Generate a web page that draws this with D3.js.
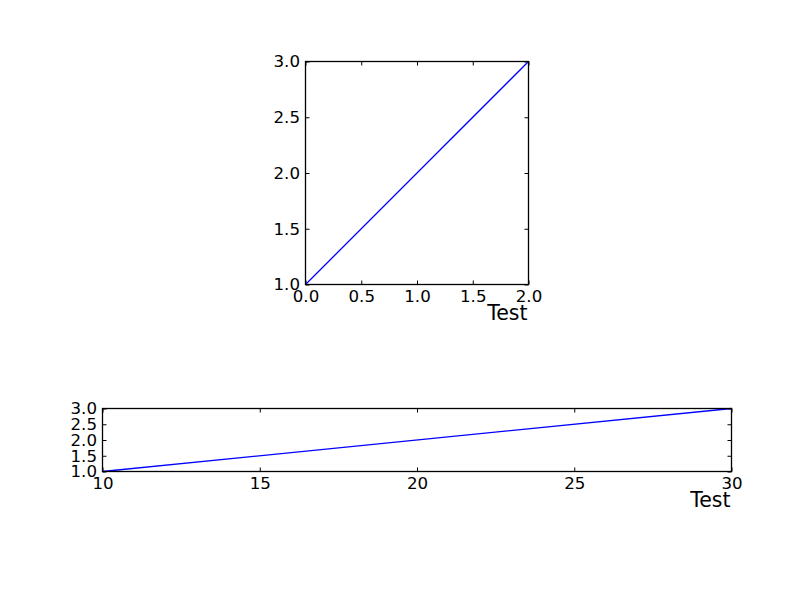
<!DOCTYPE html>
<html><head><meta charset="utf-8">
<script src="https://cdn.jsdelivr.net/npm/d3@7"></script>
<style>
body{margin:0;background:#fff;}
text{font-family:"DejaVu Sans",sans-serif;fill:#000;}
</style></head>
<body>
<script>
// Data
const topX = [0, 2];
const topY = [1, 3];
const topXTicks = [0, 0.5, 1.0, 1.5, 2.0];
const topYTicks = [1.0, 1.5, 2.0, 2.5, 3.0];
const botX = [10, 30];
const botY = [1, 3];
const botXTicks = [10, 15, 20, 25, 30];
const botYTicks = [1.0, 1.5, 2.0, 2.5, 3.0];
const xLabel = "Test";

const svg = d3.select("body").append("svg").attr("width", 812).attr("height", 612);
svg.append("rect").attr("width", 812).attr("height", 612).attr("fill", "#fff");

function panel(box, xs, ys, xDom, yDom, xTicks, yTicks, xFmt, yFmt) {
  const x = d3.scaleLinear().domain(xDom).range([box.l, box.r]);
  const y = d3.scaleLinear().domain(yDom).range([box.b, box.t]);
  const g = svg.append("g");
  const tl = 4;
  const fs = 16.67;
  const ax = d3.axisBottom(x).tickValues(xTicks).tickFormat(xFmt).tickSizeInner(-tl).tickSizeOuter(0).tickPadding(5.5);
  const gx = g.append("g").attr("transform", `translate(0,${box.b})`).call(ax);
  gx.select(".domain").remove();
  gx.selectAll("text").attr("font-size", fs).attr("font-family", "DejaVu Sans").attr("fill", "#000");
  gx.selectAll("line").attr("stroke", "#000");
  const ax2 = d3.axisTop(x).tickValues(xTicks).tickFormat("").tickSizeInner(-tl).tickSizeOuter(0);
  const gx2 = g.append("g").attr("transform", `translate(0,${box.t})`).call(ax2);
  gx2.select(".domain").remove();
  gx2.selectAll("line").attr("stroke", "#000");
  const ay = d3.axisLeft(y).tickValues(yTicks).tickFormat(yFmt).tickSizeInner(-tl).tickSizeOuter(0).tickPadding(5.5);
  const gy = g.append("g").attr("transform", `translate(${box.l},0)`).call(ay);
  gy.select(".domain").remove();
  gy.selectAll("text").attr("font-size", fs).attr("font-family", "DejaVu Sans").attr("fill", "#000");
  gy.selectAll("line").attr("stroke", "#000");
  const ay2 = d3.axisRight(y).tickValues(yTicks).tickFormat("").tickSizeInner(-tl).tickSizeOuter(0);
  const gy2 = g.append("g").attr("transform", `translate(${box.r},0)`).call(ay2);
  gy2.select(".domain").remove();
  gy2.selectAll("line").attr("stroke", "#000");
  const data = xs.map((v, i) => [v, ys[i]]);
  g.append("path").datum(data).attr("fill", "none").attr("stroke", "#0000ff").attr("stroke-width", 1.3)
    .attr("d", d3.line().x(d => x(d[0])).y(d => y(d[1])));
  g.append("rect").attr("x", box.l).attr("y", box.t).attr("width", box.r - box.l).attr("height", box.b - box.t)
    .attr("fill", "none").attr("stroke", "#000").attr("stroke-width", 1.3);
  g.append("text").attr("x", box.r - 1).attr("y", box.b + 35).attr("text-anchor", "end")
    .attr("font-size", 20.5).text(xLabel);
}

panel({l: 305.5, r: 528.5, t: 61.5, b: 284.5}, topX, topY, [0, 2], [1, 3], topXTicks, topYTicks, d3.format(".1f"), d3.format(".1f"));
panel({l: 102.5, r: 731.5, t: 408.5, b: 471.5}, botX, botY, [10, 30], [1, 3], botXTicks, botYTicks, d3.format("d"), d3.format(".1f"));
</script>
</body></html>
